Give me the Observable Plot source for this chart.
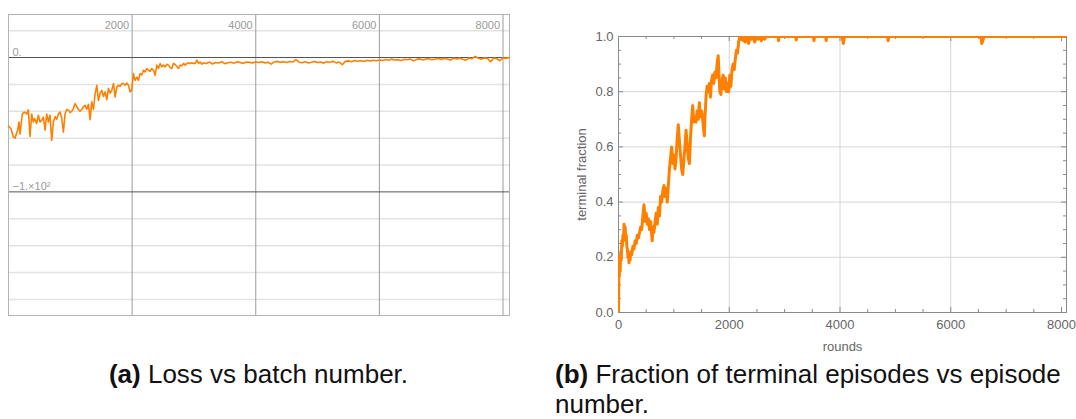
<!DOCTYPE html>
<html>
<head>
<meta charset="utf-8">
<script src="https://cdn.jsdelivr.net/npm/d3@7"></script>
<script src="https://cdn.jsdelivr.net/npm/@observablehq/plot@0.6"></script>
<style>
  body { margin: 0; background: #fff; width: 1076px; height: 419px; overflow: hidden; position: relative;
         font-family: "Liberation Sans", Arial, sans-serif; }
  #loss { position: absolute; left: 0; top: 0; }
  #term { position: absolute; left: 560px; top: 0; }
  .cap { position: absolute; font-size: 26px; line-height: 30px; color: #111; white-space: nowrap; }
  #capA { left: 8px; width: 501px; text-align: center; top: 359px; }
  #capB { left: 555px; top: 359px; }
</style>
</head>
<body>
<div id="loss"></div>
<div id="term"></div>
<div class="cap" id="capA"><b>(a)</b> Loss vs batch number.</div>
<div class="cap" id="capB"><b>(b)</b> Fraction of terminal episodes vs episode<br>number.</div>
<script>
// ---- (a) loss per batch: [batch, loss]
const lossSamples = [
  [0,-51],[40,-53],[78,-59],[105,-60],[148,-54],[170,-48],[186,-57],[224,-42],[256,-40.6],[294,-42],
  [321,-39],[348,-58.7],[375,-42],[402,-48],[421,-45.5],[456,-49],[483,-43],[510,-48],[537,-46.8],[564,-44.3],
  [591,-54],[618,-42],[645,-48],[672,-43],[699,-61.7],[726,-48],[753,-44],[780,-46],[807,-42],[834,-40.6],
  [861,-45],[888,-55.5],[915,-42],[942,-38.7],[969,-39],[996,-41],[1023,-40],[1050,-38],[1077,-34.3],[1104,-36.5],
  [1131,-38.7],[1158,-40],[1185,-38.7],[1212,-36.5],[1239,-35.6],[1266,-38.5],[1293,-34.8],[1320,-46.3],[1347,-33],[1374,-38.7],
  [1401,-27],[1428,-20.7],[1455,-32],[1482,-26.5],[1509,-24.4],[1536,-29],[1563,-25.6],[1590,-31.4],[1617,-23],[1644,-26.5],
  [1671,-24.4],[1698,-19.4],[1725,-29.4],[1752,-22],[1779,-20.7],[1806,-21.4],[1833,-19.4],[1860,-19.4],[1887,-20.7],[1914,-19],
  [1940,-20.7],[1967,-25.6],[1994,-24],[2021,-12],[2048,-17],[2075,-14.5],[2102,-17],[2129,-12],[2156,-13],[2183,-9.5],
  [2210,-10.7],[2237,-8.2],[2264,-9.5],[2291,-10.2],[2318,-8.2],[2345,-9.5],[2372,-13.2],[2399,-5.7],[2426,-8.2],[2453,-4.5],
  [2480,-7],[2507,-5.7],[2534,-7],[2561,-5],[2588,-5.7],[2615,-7.5],[2642,-8.2],[2668,-4.4],[2695,-5.2],[2722,-6.5],
  [2750,-8.2],[2777,-5.7],[2804,-6.2],[2831,-4.4],[2858,-5.7],[2885,-4.4],[2912,-3.9],[2939,-4.4],[2966,-3.9],[2993,-4.4],
  [3020,-4.4],[3047,-2],[3074,-4.4],[3101,-3.4],[3128,-5],
  [3150,-3.9],[3200,-4.4],[3250,-3.4],[3300,-4.8],[3350,-3.7],[3400,-4.1],[3450,-3.2],[3500,-4.6],[3550,-3.9],[3600,-3.5],
  [3650,-4.2],[3700,-3.1],[3750,-3.8],[3800,-4.3],[3850,-3.3],[3900,-3.6],[3950,-4.0],[4000,-3.4],
  [4050,-3.7],[4100,-3.2],[4150,-4.0],[4200,-3.5],[4250,-4.9],[4300,-3.3],[4350,-2.9],[4400,-3.6],[4450,-3.1],[4500,-3.8],
  [4550,-3.0],[4600,-3.4],[4650,-1.6],[4700,-3.5],[4750,-3.9],[4800,-3.2],[4850,-4.1],[4900,-3.6],[4950,-3.0],[5000,-3.8],
  [5050,-3.3],[5100,-4.2],[5150,-3.1],[5200,-3.6],[5250,-2.8],[5300,-4.0],[5350,-3.4],[5400,-5.4],[5450,-2.9],[5500,-2.5],
  [5550,-3.1],[5600,-2.2],[5650,-2.8],[5700,-2.4],[5750,-3.0],[5800,-2.1],[5850,-2.6],[5900,-2.0],[5950,-2.4],[6000,-1.8],
  [6050,-2.3],[6100,-1.5],[6150,-2.0],[6200,-1.2],[6250,-1.9],[6300,-1.6],[6350,-2.2],[6400,-1.3],[6450,-1.7],[6500,-1.1],
  [6550,-2.5],[6600,-1.4],[6650,-1.0],[6700,-1.8],[6750,-1.2],[6800,-0.9],[6850,-1.6],[6900,-1.3],[6950,-0.8],[7000,-1.4],
  [7050,-0.7],[7100,-1.1],[7150,-1.9],[7200,-0.6],[7250,-1.0],[7300,-0.5],[7350,-1.3],[7400,-2.0],[7450,-0.4],[7500,-0.9],
  [7550,0.8],[7600,-0.6],[7650,-1.2],[7700,-0.3],[7750,-0.8],[7800,-3.2],[7850,-0.4],[7900,-0.9],[7950,-2.4],[8000,-0.3],
  [8050,-0.6],[8100,-0.1]
];
const lossGridX = [2000, 4000, 6000, 8000];
const lossMajorY = [0, -100];
const lossMajorLabels = ["0.", "\u22121.\u00d710\u00b2"];
const lossMinorY = [20, -20, -40, -60, -80, -120, -140, -160, -180];

// ---- (b) fraction of terminal episodes: [round, fraction]
const termSamples = [
  [0,0.00],[5,0.12],[10,0.20],[15,0.13],[20,0.18],[30,0.15],[40,0.22],[50,0.19],[60,0.26],[70,0.24],
  [80,0.28],[90,0.26],[100,0.32],[110,0.29],[120,0.31],[130,0.27],[140,0.28],[150,0.24],[160,0.23],[170,0.20],
  [180,0.21],[190,0.18],[200,0.20],[210,0.19],[220,0.22],[240,0.21],[260,0.24],[280,0.23],[300,0.26],[320,0.25],
  [340,0.28],[360,0.27],[380,0.29],[400,0.31],[420,0.30],[440,0.35],[460,0.39],[470,0.37],[480,0.33],[500,0.36],
  [520,0.32],[540,0.34],[560,0.30],[580,0.33],[600,0.28],[610,0.26],[620,0.31],[640,0.29],[660,0.33],[680,0.36],
  [700,0.32],[720,0.38],[740,0.35],[760,0.42],[780,0.40],[800,0.44],[820,0.46],[840,0.42],[860,0.45],[880,0.40],
  [900,0.46],[920,0.52],[940,0.56],[960,0.60],[980,0.54],[1000,0.57],[1020,0.52],[1040,0.56],[1060,0.63],[1080,0.68],
  [1100,0.62],[1120,0.57],[1140,0.52],[1160,0.50],[1180,0.55],[1200,0.60],[1220,0.66],[1240,0.61],[1260,0.56],[1280,0.54],
  [1300,0.63],[1320,0.70],[1340,0.75],[1360,0.69],[1380,0.71],[1400,0.69],[1420,0.73],[1440,0.70],[1460,0.76],[1480,0.71],
  [1500,0.73],[1520,0.70],[1540,0.66],[1550,0.64],[1560,0.70],[1580,0.78],[1600,0.82],[1620,0.80],[1640,0.83],[1660,0.78],
  [1680,0.84],[1700,0.86],[1720,0.83],[1740,0.87],[1760,0.85],[1780,0.90],[1800,0.93],[1815,0.86],[1830,0.80],[1850,0.79],
  [1870,0.84],[1890,0.86],[1910,0.81],[1930,0.85],[1950,0.80],[1970,0.83],[1990,0.80],[2010,0.86],[2030,0.82],[2050,0.88],
  [2070,0.90],[2090,0.88],[2110,0.92],[2130,0.95],[2150,0.94],[2170,0.98],[2190,1.00],[2210,0.99],[2230,1.00],[2250,0.985],
  [2270,1.00],[2290,0.98],[2310,1.00],[2330,0.99],[2350,0.975],[2370,1.00],[2400,0.99],[2430,1.00],[2460,0.98],[2490,1.00],
  [2520,0.99],[2550,1.00],[2580,0.985],[2610,1.00],[2640,0.99],[2670,1.00],[2880,1.00],[2890,0.985],[2900,1.00],[3200,1.00],
  [3210,0.987],[3220,1.00],[3520,1.00],[3530,0.985],[3540,1.00],[3740,1.00],[3750,0.985],[3760,1.00],[4040,1.00],[4060,0.975],
  [4080,1.00],[4860,1.00],[4870,0.985],[4880,1.00],[6540,1.00],[6560,0.975],[6580,0.985],[6600,1.00],[8090,1.00]
];
const termMajorX = [0, 2000, 4000, 6000, 8000];
const termMinorX = [500, 1000, 1500, 2500, 3000, 3500, 4500, 5000, 5500, 6500, 7000, 7500];
const termGridX = [2000, 4000, 6000];
const termMajorY = [0, 0.2, 0.4, 0.6, 0.8, 1.0];
const termMinorY = [0.05, 0.1, 0.15, 0.25, 0.3, 0.35, 0.45, 0.5, 0.55, 0.65, 0.7, 0.75, 0.85, 0.9, 0.95];
const termGridY = [0.2, 0.4, 0.6, 0.8];

const orange = "#ff8000";
const font = "'Liberation Sans', Arial, sans-serif";

// (a) loss chart with Mathematica-style grid and inline labels
const lossChart = Plot.plot({
  width: 520, height: 330,
  marginLeft: 8, marginRight: 11, marginTop: 14, marginBottom: 15,
  x: {domain: [0, 8105], axis: null},
  y: {domain: [-192, 32], axis: null},
  style: {fontFamily: font, background: "white"},
  marks: [
    Plot.ruleY(lossMinorY, {stroke: "#e3e3e3", strokeWidth: 1.5}),
    Plot.ruleX(lossGridX, {stroke: "#9c9c9c"}),
    Plot.ruleY(lossMajorY, {stroke: "#555"}),
    Plot.frame({stroke: "#b3b3b3"}),
    Plot.line(lossSamples, {stroke: orange, strokeWidth: 1.6, strokeLinejoin: "round"}),
    Plot.text(lossGridX, {x: d => d, text: d => String(d), frameAnchor: "top", dy: 14, dx: -3,
      textAnchor: "end", lineAnchor: "bottom", fill: "#9a9a9a", fontSize: 11}),
    Plot.text(lossMajorY, {y: d => d, text: (d, i) => lossMajorLabels[i], frameAnchor: "left", dx: 4, dy: -2,
      textAnchor: "start", lineAnchor: "bottom", fill: "#9a9a9a", fontSize: 11})
  ]
});
document.getElementById("loss").append(lossChart);

// (b) terminal fraction chart with inward frame ticks
const innerW = 516 - 58 - 10, innerH = 360 - 36 - 48;
const tickStyle = {stroke: "#8a8a8a"};
const termChart = Plot.plot({
  width: 516, height: 360,
  marginLeft: 58, marginRight: 10, marginTop: 36, marginBottom: 48,
  x: {domain: [0, 8090]},
  y: {domain: [0, 1]},
  style: {fontFamily: font, fontSize: "13px", color: "#666", background: "white"},
  marks: [
    Plot.ruleY(termGridY, {stroke: "#d6d6d6"}),
    Plot.ruleX(termGridX, {stroke: "#d6d6d6"}),
    Plot.ruleX(termMajorX, {...tickStyle, insetTop: innerH - 5}),
    Plot.ruleX(termMajorX, {...tickStyle, insetBottom: innerH - 5}),
    Plot.ruleX(termMinorX, {...tickStyle, insetTop: innerH - 3}),
    Plot.ruleX(termMinorX, {...tickStyle, insetBottom: innerH - 3}),
    Plot.ruleY(termMajorY, {...tickStyle, insetRight: innerW - 5}),
    Plot.ruleY(termMajorY, {...tickStyle, insetLeft: innerW - 5}),
    Plot.ruleY(termMinorY, {...tickStyle, insetRight: innerW - 3}),
    Plot.ruleY(termMinorY, {...tickStyle, insetLeft: innerW - 3}),
    Plot.frame({stroke: "#8a8a8a"}),
    Plot.line(termSamples, {stroke: orange, strokeWidth: 3, strokeLinejoin: "round", clip: true}),
    Plot.axisX(termMajorX, {tickSize: 0, tickPadding: 7, tickFormat: "d", fill: "#666", label: "rounds",
      labelAnchor: "center", labelOffset: 38, labelArrow: "none"}),
    Plot.axisY(termMajorY, {tickSize: 0, tickPadding: 5, tickFormat: ".1f", fill: "#666", label: "terminal fraction",
      labelAnchor: "center", labelOffset: 42, labelArrow: "none"})
  ]
});
document.getElementById("term").append(termChart);
</script>
</body>
</html>
